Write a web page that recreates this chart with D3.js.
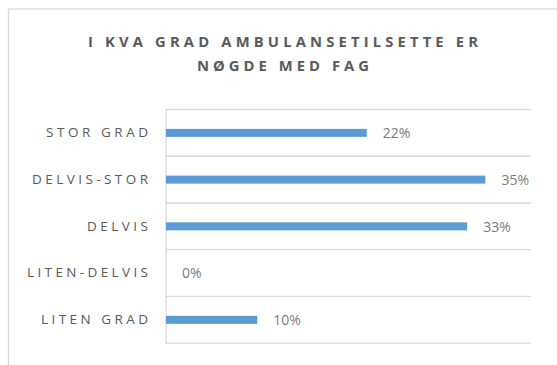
<!DOCTYPE html>
<html>
<head>
<meta charset="utf-8">
<script src="https://cdn.jsdelivr.net/npm/d3@7"></script>
<style>
  html, body { margin: 0; padding: 0; background: #fff; }
  svg { display: block; }
</style>
</head>
<body>
<svg id="chart" width="557" height="365"></svg>
<script>
// Survey answers: to what degree ambulance staff are satisfied with the profession
const categories = ["STOR GRAD", "DELVIS-STOR", "DELVIS", "LITEN-DELVIS", "LITEN GRAD"];
const shares = [0.22, 0.35, 0.33, 0.00, 0.10];
const titleLines = ["I KVA GRAD AMBULANSETILSETTE ER", "NØGDE MED FAG"];
const xDomain = [0, 0.40];

const svg = d3.select("#chart");
const W = 557, H = 365;
const plot = { left: 166, right: 531, top: 109.5, bottom: 343.2 };

// outer chart frame (continues past the right and bottom edges)
svg.append("rect")
  .attr("x", 8.5).attr("y", 9)
  .attr("width", W + 20).attr("height", H + 20)
  .attr("fill", "#fff")
  .attr("stroke", "#d9d9d9").attr("stroke-width", 1.3);

// title, letter-spaced
const titleWidths = [390, 172];
const titleBaselines = [47.3, 70.7];
titleLines.forEach((t, i) => {
  svg.append("text")
    .attr("x", 283).attr("y", titleBaselines[i])
    .attr("text-anchor", "middle")
    .attr("font-family", "'Open Sans', sans-serif")
    .attr("font-weight", 700)
    .attr("font-size", 14.8)
    .attr("fill", "#595959")
    .attr("textLength", titleWidths[i])
    .attr("lengthAdjust", "spacing")
    .text(t);
});

const x = d3.scaleLinear().domain(xDomain).range([plot.left, plot.right]);
const y = d3.scaleBand().domain(categories).range([plot.top, plot.bottom]).paddingInner(0).paddingOuter(0);

// horizontal separators between categories
const bounds = categories.map(c => y(c)).concat([plot.bottom]);
svg.append("g").selectAll("line")
  .data(bounds)
  .join("line")
  .attr("x1", plot.left).attr("x2", plot.right)
  .attr("y1", d => d).attr("y2", d => d)
  .attr("stroke", "#d9d9d9").attr("stroke-width", 1.3);

// vertical category axis line
svg.append("line")
  .attr("x1", plot.left).attr("x2", plot.left)
  .attr("y1", plot.top).attr("y2", plot.bottom)
  .attr("stroke", "#d9d9d9").attr("stroke-width", 1.3);

// category labels, letter-spaced, right-aligned
const labelWidths = { "STOR GRAD": 102, "DELVIS-STOR": 116, "DELVIS": 61, "LITEN-DELVIS": 121, "LITEN GRAD": 107 };
const yAxis = d3.axisLeft(y).tickSize(0).tickPadding(0);
const gAxis = svg.append("g").attr("transform", `translate(${plot.left - 18},0)`).call(yAxis);
gAxis.select(".domain").remove();
gAxis.selectAll("text")
  .attr("font-family", "'Open Sans', sans-serif")
  .attr("font-size", 13.5)
  .attr("fill", "#595959")
  .attr("textLength", d => labelWidths[d])
  .attr("lengthAdjust", "spacing");

const barH = 8;
const rows = categories.map((c, i) => ({ c, v: shares[i] }));

// bars
svg.append("g").selectAll("rect")
  .data(rows)
  .join("rect")
  .attr("x", x(0))
  .attr("y", d => y(d.c) + y.bandwidth() / 2 - barH / 2)
  .attr("width", d => x(d.v) - x(0))
  .attr("height", barH)
  .attr("fill", "#5b9bd5");

// value labels
svg.append("g").selectAll("text")
  .data(rows)
  .join("text")
  .attr("x", d => x(d.v) + 16)
  .attr("y", d => y(d.c) + y.bandwidth() / 2 + 0.5)
  .attr("dy", "0.35em")
  .attr("font-family", "'Open Sans', sans-serif")
  .attr("font-size", 14)
  .attr("fill", "#7a7a7a")
  .text(d => d3.format(".0%")(d.v));
</script>
</body>
</html>
